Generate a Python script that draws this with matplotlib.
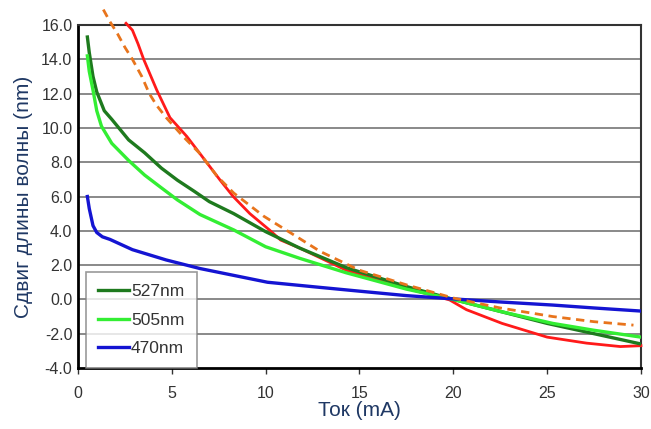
import matplotlib.pyplot as plt

plt.rcParams['font.family'] = ['Liberation Sans', 'DejaVu Sans']

# --- data ---
x_527 = [0.5, 0.6, 0.8, 1.0, 1.4, 1.8, 2.7, 3.55, 4.45, 5.3, 6.2, 7.0, 8.3, 10.0, 11.8, 14.3, 17.5, 20.0, 22.5, 25.0, 27.5, 30.0]
y_527 = [15.3, 14.4, 13.0, 12.1, 11.0, 10.5, 9.3, 8.55, 7.65, 6.95, 6.3, 5.7, 5.0, 3.95, 3.0, 1.85, 0.75, 0.0, -0.7, -1.4, -2.0, -2.6]

x_505 = [0.5, 0.6, 0.8, 1.0, 1.25, 1.8, 2.7, 3.55, 4.45, 5.3, 6.5, 8.3, 10.0, 11.8, 14.3, 17.5, 20.0, 22.5, 25.3, 27.5, 30.0]
y_505 = [14.2, 13.3, 12.2, 11.0, 10.1, 9.1, 8.1, 7.25, 6.5, 5.8, 4.95, 4.05, 3.07, 2.4, 1.55, 0.6, 0.0, -0.7, -1.4, -1.8, -2.2]

x_470 = [0.5, 0.6, 0.8, 1.0, 1.3, 1.7, 2.3, 2.9, 3.8, 4.7, 5.6, 6.5, 8.3, 10.1, 12.9, 15.0, 17.5, 20.0, 22.5, 25.3, 27.5, 30.0]
y_470 = [6.0, 5.3, 4.3, 3.9, 3.65, 3.5, 3.2, 2.9, 2.6, 2.3, 2.05, 1.8, 1.4, 1.0, 0.7, 0.48, 0.22, 0.03, -0.15, -0.33, -0.5, -0.68]

x_red = [2.56, 2.9, 3.2, 3.5, 4.2, 4.9, 5.8, 6.5, 7.57, 8.27, 9.16, 10.2, 10.8, 11.8, 14.3, 16.5, 18.0, 19.8, 20.7, 22.6, 25.0, 27.1, 28.9, 30.0]
y_red = [16.1, 15.7, 14.9, 14.0, 12.2, 10.6, 9.5, 8.5, 6.96, 6.0, 5.0, 4.05, 3.46, 3.0, 1.7, 0.95, 0.5, -0.03, -0.6, -1.4, -2.2, -2.55, -2.75, -2.7]

x_fit = [1.35, 1.7, 2.1, 2.5, 2.9, 3.4, 3.8, 4.2, 4.7, 5.6, 6.5, 7.4, 8.3, 9.9, 11.3, 12.9, 15.0, 17.5, 20.0, 22.5, 25.3, 27.5, 29.6]
y_fit = [16.9, 16.2, 15.5, 14.7, 14.0, 13.0, 12.0, 11.3, 10.6, 9.5, 8.5, 7.2, 6.2, 4.85, 3.9, 2.8, 1.7, 0.85, 0.08, -0.5, -1.0, -1.3, -1.5]

x_ticks = [0, 5, 10, 15, 20, 25, 30]
y_ticks = [-4, -2, 0, 2, 4, 6, 8, 10, 12, 14, 16]

# --- figure ---
fig = plt.figure(figsize=(6.51, 4.29), dpi=100)
ax = fig.add_axes([0.1198, 0.1422, 0.8648, 0.7995])

for y in y_ticks[1:-1]:
    ax.axhline(y, color='#808080', lw=1.3, zorder=1)

ax.plot(x_red, y_red, color='#ff1a1a', lw=2.0, zorder=3, clip_on=False)
ax.plot(x_fit, y_fit, color='#e8741c', lw=2.0, ls=(0, (3, 2)), zorder=4, clip_on=False)
l1, = ax.plot(x_527, y_527, color='#1e7a1e', lw=2.4, zorder=3)
l2, = ax.plot(x_505, y_505, color='#33ee33', lw=2.4, zorder=3)
l3, = ax.plot(x_470, y_470, color='#1414d2', lw=2.4, zorder=3)

ax.set_xlim(0, 30)
ax.set_ylim(-4, 16)
ax.set_xticks(x_ticks)
ax.set_yticks(y_ticks)
ax.set_yticklabels([f'{v:.1f}' for v in y_ticks])
ax.tick_params(axis='both', labelsize=11.5, colors='#333333', length=4, width=1)
ax.tick_params(axis='x', pad=9)
ax.tick_params(axis='y', length=0, pad=4)

for s in ['left', 'bottom']:
    ax.spines[s].set_linewidth(2)
    ax.spines[s].set_color('black')
for s in ['top', 'right']:
    ax.spines[s].set_linewidth(1.5)
    ax.spines[s].set_color('#333333')

ax.set_xlabel('Ток (mA)', fontsize=15, color='#1f3864', labelpad=0)
ax.set_ylabel('Сдвиг длины волны (nm)', fontsize=15, color='#1f3864', labelpad=6)

leg = ax.legend([l1, l2, l3], ['527nm', '505nm', '470nm'], loc='lower left',
                bbox_to_anchor=(0.014, 0.0), fontsize=12.5, frameon=True, fancybox=False,
                handlelength=1.8, handletextpad=0.1, labelspacing=0.75,
                borderpad=0.7, borderaxespad=0.0)
leg.get_frame().set_edgecolor('#808080')
leg.get_frame().set_linewidth(1.2)
for t in leg.get_texts():
    t.set_color('#333333')

fig.savefig('out.png', dpi=100)
